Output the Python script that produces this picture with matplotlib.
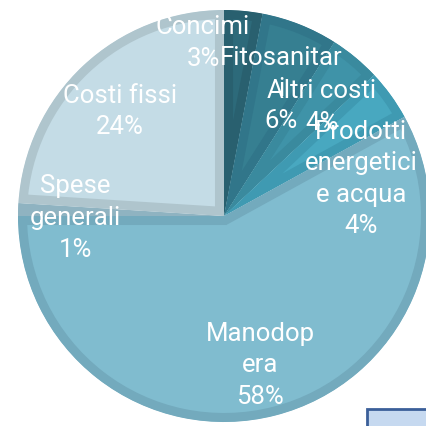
import numpy as np
import matplotlib
matplotlib.use('Agg')
import matplotlib.pyplot as plt
from matplotlib.patches import Rectangle

# Dati: ripartizione dei costi (%)
categorie = ['Concimi', 'Fitosanitari', 'Altri costi', 'Prodotti energetici e acqua',
             'Manodopera', 'Spese generali', 'Costi fissi']
percentuali = [3, 6, 4, 4, 58, 1, 24]
etichette = ['Concimi\n3%', 'Fitosanitar\ni\n6%', 'Altri costi\n4%',
             'Prodotti\nenergetici\ne acqua\n4%', 'Manodop\nera\n58%',
             'Spese\ngenerali\n1%', 'Costi fissi\n24%']

# stile
colori = ['#2d6a7a', '#367f91', '#3f93a8', '#48a8c0', '#80bccf', '#98bfcd', '#c4dce6']
bordi = ['#29606f', '#31768a', '#3a8a9e', '#3f9ab2', '#73aabd', '#8fb3c1', '#afc5cd']
dist_etichette = [0.85, 0.68, 0.715, 0.69, 0.74, 0.72, 0.72]
sposta_angolo = [12.3, -2.6, -2.1, -20.5, -0.7, 2.2, 1.5]

cx, cy, r = 224, 210, 206

fig = plt.figure(figsize=(4.26, 4.27), dpi=100)
ax = fig.add_axes([0, 0, 1, 1])

wedges, _ = ax.pie(percentuali, startangle=90, counterclock=False, colors=colori,
                   radius=r, center=(cx, cy))

# effetto "bevel": bordo interno piu scuro (il tratto e' ritagliato sulla fetta)
for w, b in zip(wedges, bordi):
    w.set_edgecolor(b)
    w.set_linewidth(13)
    w.set_joinstyle('miter')
    w.set_clip_on(True)
    w.set_clip_path(w)

for w, testo, d, da in zip(wedges, etichette, dist_etichette, sposta_angolo):
    ang = np.deg2rad((w.theta1 + w.theta2) / 2 + da)
    x = cx + d * r * np.cos(ang)
    y = cy + d * r * np.sin(ang)
    ax.text(x, y, testo, ha='center', va='center', multialignment='center',
            color='white', fontsize=18.5,
            family=['Roboto', 'Liberation Sans', 'DejaVu Sans'],
            linespacing=1.4)

ax.add_patch(Rectangle((367, -5), 70, 22, facecolor='#c6d9f0', edgecolor='#3b5f99',
                       linewidth=2))

ax.set_xlim(0, 426)
ax.set_ylim(0, 427)
ax.set_aspect('equal')
ax.axis('off')

fig.savefig('out.png', dpi=100)
